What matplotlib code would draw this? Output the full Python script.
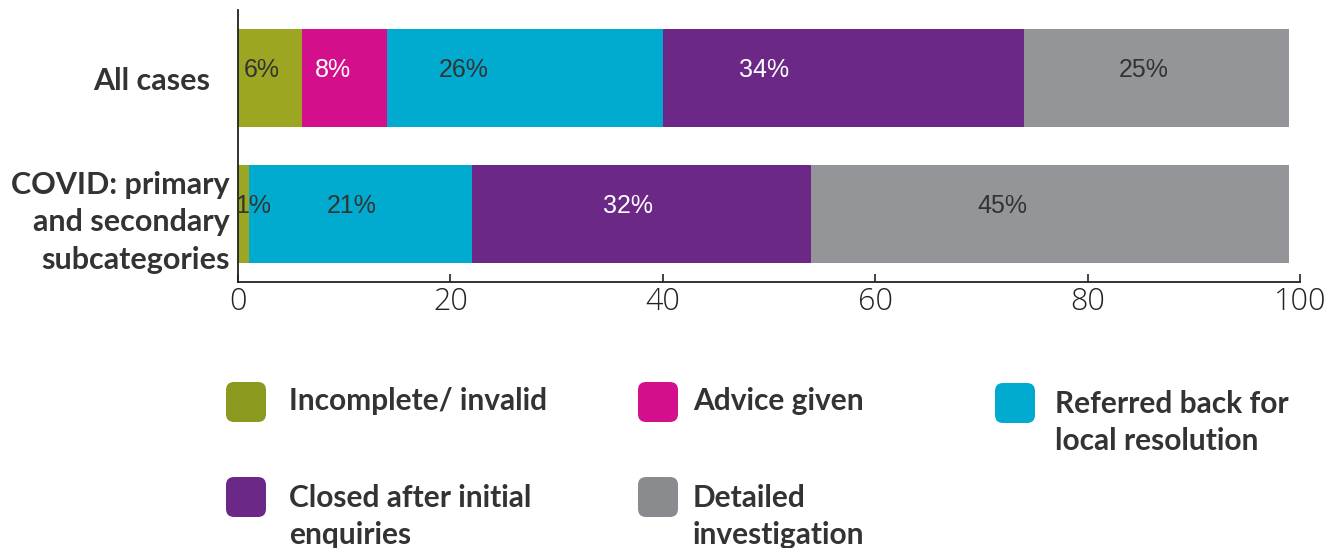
import matplotlib.pyplot as plt
import numpy as np
from matplotlib.patches import FancyBboxPatch
from matplotlib.ticker import MultipleLocator

# outcome shares (%) for each group
groups = ['COVID: primary\nand secondary\nsubcategories', 'All cases']
categories = ['Incomplete/ invalid', 'Advice given', 'Referred back for\nlocal resolution',
              'Closed after initial\nenquiries', 'Detailed\ninvestigation']
all_cases = [6, 8, 26, 34, 25]
covid = [1, 0, 21, 32, 45]

colors = ['#9da623', '#d30f8b', '#00abcf', '#6c2886', '#939598']
legend_colors = ['#8c991f', '#d30f8b', '#00abcf', '#6c2886', '#8a8b8e']
label_colors = ['#333333', 'white', '#333333', 'white', '#333333']
# where each % label sits along its segment (fraction of segment width)
label_frac = {1: [0.38, 0.37, 0.28, 0.28, 0.45],
              0: [1.45, 0.4, 0.46, 0.46, 0.4]}

fig = plt.figure(figsize=(13.43, 5.48), dpi=100)
ax = fig.add_axes([0.1772, 0.4854, 0.968 - 0.1772, 0.9818 - 0.4854])

rows = {0: covid, 1: all_cases}
for y, vals in rows.items():
    left = 0
    for i, v in enumerate(vals):
        if v == 0:
            continue
        ax.barh(y, v, left=left, height=0.725, color=colors[i], edgecolor='none')
        ax.text(left + v * label_frac[y][i], y + 0.06, f'{v}%', ha='center', va='center',
                fontsize=18, color=label_colors[i], family='Liberation Sans')
        left += v

ax.set_xlim(0, 100)
ax.set_ylim(-0.5, 1.5)
ax.xaxis.set_major_locator(MultipleLocator(20))
ax.tick_params(axis='x', direction='in', length=6, width=1.2, colors='#222222',
               labelsize=22, pad=3)
for t in ax.get_xticklabels():
    t.set_family('Open Sans')
    t.set_fontweight('light')
ax.set_yticks([])
for s in ['top', 'right']:
    ax.spines[s].set_visible(False)
for s in ['left', 'bottom']:
    ax.spines[s].set_linewidth(1.3)
    ax.spines[s].set_color('#222222')

# group names to the left of the axis
name_font = dict(family='Lato', fontweight='bold', color='#333333')
ax.annotate(groups[1], xy=(0, 1), xycoords=('axes fraction', 'data'),
            xytext=(-20, -2), textcoords='offset points', ha='right', va='center',
            fontsize=22, **name_font)
ax.annotate(groups[0], xy=(0, 0), xycoords=('axes fraction', 'data'),
            xytext=(-6, -6), textcoords='offset points', ha='right', va='center',
            multialignment='right', linespacing=1.4, fontsize=22, **name_font)

# legend drawn as rounded swatches with labels
W, H = 1343, 548
sw_x = [226, 638, 995, 226, 638]
sw_y = [402, 402, 403, 497, 497]
txt_x = [289, 693, 1055, 289, 693]
for i, cat in enumerate(categories):
    x0, yc = sw_x[i], sw_y[i]
    patch = FancyBboxPatch((x0 / W, 1 - (yc + 20) / H), 40 / W, 40 / H,
                           boxstyle='round,pad=0,rounding_size=0.006',
                           transform=fig.transFigure, facecolor=legend_colors[i],
                           edgecolor='none', mutation_aspect=W / H)
    fig.patches.append(patch)
    if '\n' in cat:
        # two-line labels hang from just above the swatch top
        fig.text(txt_x[i] / W, 1 - (yc - 13) / H, cat, ha='left', va='top',
                 fontsize=21.5, linespacing=1.4, **name_font)
    else:
        fig.text(txt_x[i] / W, 1 - (yc - 1) / H, cat, ha='left', va='center',
                 fontsize=21.5, **name_font)

fig.savefig('out.png', dpi=100)
